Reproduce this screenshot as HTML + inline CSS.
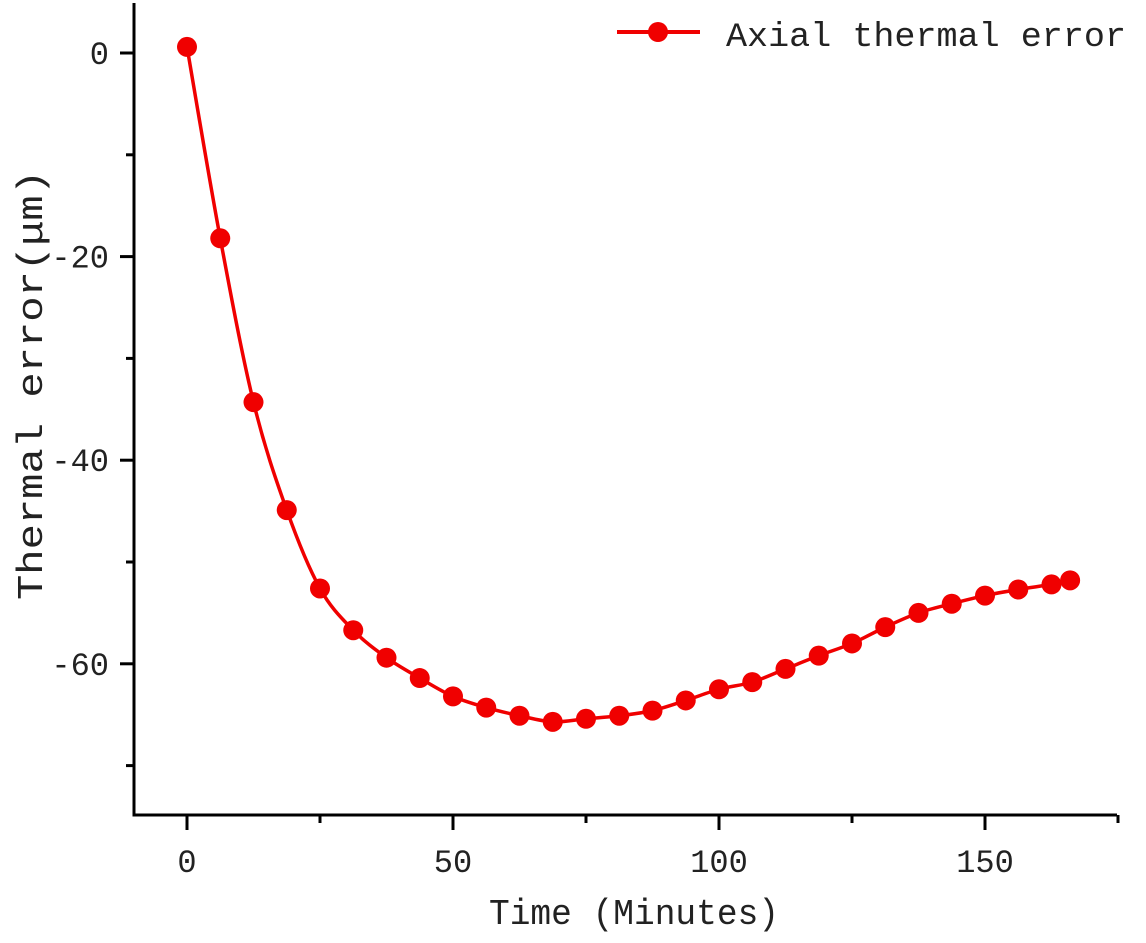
<!DOCTYPE html>
<html><head><meta charset="utf-8"><style>
html,body{margin:0;padding:0;background:#fff;}
svg text{font-family:"Liberation Mono","Noto Serif CJK SC",monospace;fill:#222;}
</style></head><body>
<svg id="chart" width="1146" height="938" viewBox="0 0 1146 938" xmlns="http://www.w3.org/2000/svg">
<g id="axes"></g>
<g id="series"></g>
<g id="legend">
  <line x1="617" y1="32" x2="700" y2="32" stroke="#f00000" stroke-width="4"/>
  <circle cx="658" cy="32" r="10" fill="#f00000"/>
  <text x="726" y="46" font-size="34" textLength="400" lengthAdjust="spacingAndGlyphs">Axial thermal error</text>
</g>
<text x="634" y="924" font-size="36" text-anchor="middle" textLength="290" lengthAdjust="spacingAndGlyphs">Time (Minutes)</text>
<text transform="translate(42,385) rotate(-90)" font-size="36" text-anchor="middle" textLength="430" lengthAdjust="spacingAndGlyphs">Thermal error(μm)</text>
</svg>
<script>
const times = [0,6.25,12.5,18.75,25,31.25,37.5,43.75,50,56.25,62.5,68.75,75,81.25,87.5,93.75,100,106.25,112.5,118.75,125,131.25,137.5,143.75,150,156.25,162.5,166];
const errors = [0.6,-18.2,-34.3,-44.9,-52.6,-56.7,-59.4,-61.4,-63.2,-64.3,-65.1,-65.7,-65.4,-65.1,-64.6,-63.6,-62.5,-61.8,-60.5,-59.2,-58.0,-56.4,-55.0,-54.1,-53.3,-52.7,-52.2,-51.8];
const xTicks = [0,50,100,150];
const xMinorTicks = [25,75,125,175];
const yTicks = [0,-20,-40,-60];
const yMinorTicks = [-10,-30,-50,-70];

const NS = "http://www.w3.org/2000/svg";
const X0 = 187, XS = 5.32, Y0 = 53, YS = 10.18;
function sx(v){return X0 + v*XS;}
function sy(v){return Y0 - v*YS;}
function mk(tag, attrs, parent){const e=document.createElementNS(NS,tag);for(const k in attrs)e.setAttribute(k,attrs[k]);parent.appendChild(e);return e;}

const axes = document.getElementById('axes');
let el = mk('line',{x1:134,y1:3,x2:134,y2:816.5,stroke:'#000','stroke-width':3},axes);


el = mk('line',{x1:132.5,y1:815,x2:1117,y2:815,stroke:'#000','stroke-width':3},axes);



xTicks.forEach(v=>{
  const t = mk('line',{x1:sx(v),y1:815,x2:sx(v),y2:830,stroke:'#000','stroke-width':3},axes);
  
  
  const l = mk('text',{x:sx(v),y:872,'font-size':32,'text-anchor':'middle'},axes);
  l.textContent = v;
  
  
});
xMinorTicks.forEach(v=>{
  const t = mk('line',{x1:sx(v),y1:815,x2:sx(v),y2:823,stroke:'#000','stroke-width':3},axes);
  
  
});
yTicks.forEach(v=>{
  const t = mk('line',{x1:120,y1:sy(v),x2:134,y2:sy(v),stroke:'#000','stroke-width':3},axes);
  
  
  const l = mk('text',{x:109,y:sy(v)+11,'font-size':32,'text-anchor':'end'},axes);
  l.textContent = v===0 ? '0' : '-'+Math.abs(v);
  
  
});
yMinorTicks.forEach(v=>{
  const t = mk('line',{x1:126,y1:sy(v),x2:134,y2:sy(v),stroke:'#000','stroke-width':3},axes);
  
  
});

const series = document.getElementById('series');
const pts = times.map((t,i)=>[sx(t),sy(errors[i])]);
let d = 'M'+pts[0][0]+','+pts[0][1];
for(let i=0;i<pts.length-1;i++){
  const p0=pts[Math.max(0,i-1)],p1=pts[i],p2=pts[i+1],p3=pts[Math.min(pts.length-1,i+2)];
  const c1x=p1[0]+(p2[0]-p0[0])/6,c1y=p1[1]+(p2[1]-p0[1])/6;
  const c2x=p2[0]-(p3[0]-p1[0])/6,c2y=p2[1]-(p3[1]-p1[1])/6;
  d+=` C${c1x},${c1y} ${c2x},${c2y} ${p2[0]},${p2[1]}`;
}
el = mk('path',{d:d,fill:'none',stroke:'#f00000','stroke-width':3.5},series);


pts.forEach(p=>{
  const c = mk('circle',{cx:p[0],cy:p[1],r:10,fill:'#f00000'},series);
  
  
});
</script>
</body></html>
